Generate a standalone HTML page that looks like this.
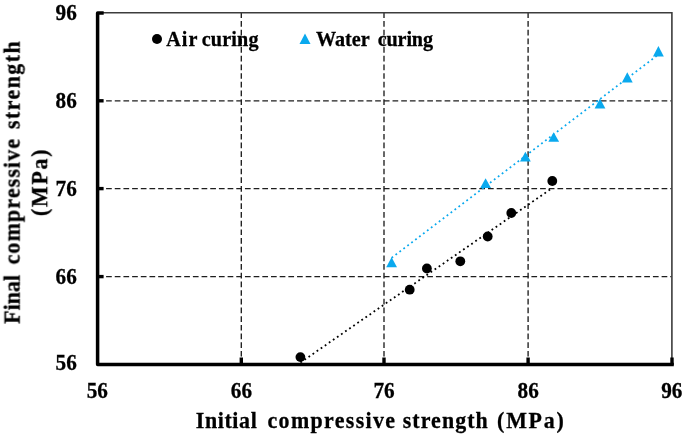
<!DOCTYPE html>
<html>
<head>
<meta charset="utf-8">
<style>
html,body{margin:0;padding:0;background:#fff;}
body{width:685px;height:436px;overflow:hidden;}
svg{display:block;}
text{font-family:"Liberation Serif",serif;font-weight:bold;fill:#000;stroke:#000;stroke-width:0.3px;filter:blur(0.3px);}
</style>
</head>
<body>
<svg width="685" height="436" viewBox="0 0 685 436">
<rect width="685" height="436" fill="#fff"/>
<g stroke="#1e1e1e" stroke-width="1.35" stroke-dasharray="5.7 2.98" fill="none">
<line x1="241.3" y1="12.4" x2="241.3" y2="363"/>
<line x1="384.0" y1="12.4" x2="384.0" y2="363"/>
<line x1="528.1" y1="12.4" x2="528.1" y2="363"/>
<line x1="97.4" y1="276.6" x2="671.5" y2="276.6"/>
<line x1="97.4" y1="188.6" x2="671.5" y2="188.6"/>
<line x1="97.4" y1="100.8" x2="671.5" y2="100.8"/>
</g>
<g stroke="#3c3c3c" stroke-width="1.6" fill="none">
<polyline points="98,12.8 671.9,12.8 671.9,363"/>
</g>
<g stroke="#000" stroke-width="3.5" fill="none" stroke-linejoin="round" stroke-linecap="butt">
<polyline points="103.7,12.9 97.6,12.9 97.6,364.6 673.8,364.6"/>
</g>
<g stroke="#000" stroke-width="3.4" fill="none">
<line x1="97" y1="276.6" x2="103.6" y2="276.6"/>
<line x1="97" y1="188.6" x2="103.6" y2="188.6"/>
<line x1="97" y1="100.8" x2="103.6" y2="100.8"/>
<line x1="241.3" y1="357.5" x2="241.3" y2="365"/>
<line x1="384.0" y1="357.5" x2="384.0" y2="365"/>
<line x1="528.1" y1="357.5" x2="528.1" y2="365"/>
<line x1="672.0" y1="357.5" x2="672.0" y2="365"/>
</g>
<line x1="300.4" y1="362.6" x2="552.3" y2="188" stroke="#000" stroke-width="1.8" stroke-dasharray="1.8 3.15"/>
<line x1="391.6" y1="257.9" x2="658.4" y2="54.6" stroke="#0aa9ee" stroke-width="1.8" stroke-dasharray="1.8 3.15"/>
<g fill="#000">
<circle cx="300.4" cy="357.1" r="4.9"/>
<circle cx="409.7" cy="289.7" r="4.9"/>
<circle cx="426.9" cy="268.5" r="4.9"/>
<circle cx="460.3" cy="261.3" r="4.9"/>
<circle cx="487.7" cy="236.5" r="4.9"/>
<circle cx="511.3" cy="213.0" r="4.9"/>
<circle cx="552.3" cy="181.0" r="4.9"/>
</g>
<g fill="#0aa9ee">
<path d="M391.6,257.3 L397.0,267.2 L386.20000000000005,267.2 Z"/>
<path d="M485.6,178.3 L491.0,188.0 L480.20000000000005,188.0 Z"/>
<path d="M525.4,151.7 L530.8,161.4 L520.0,161.4 Z"/>
<path d="M553.7,132.3 L559.1,141.8 L548.3000000000001,141.8 Z"/>
<path d="M600.0,98.6 L605.4,108.5 L594.6,108.5 Z"/>
<path d="M627.3,72.2 L632.6999999999999,82.5 L621.9,82.5 Z"/>
<path d="M658.4,46.1 L663.8,56.5 L653.0,56.5 Z"/>
<path d="M305,33.5 L310.5,44.1 L299.5,44.1 Z"/>
</g>
<circle cx="157" cy="39" r="5" fill="#000"/>
<text transform="translate(166.20,46) scale(0.96,1)" font-size="21.0" letter-spacing="1.131">Air</text>
<text transform="translate(201.70,46) scale(0.96,1)" font-size="21.0" letter-spacing="0.167">curing</text>
<text transform="translate(316.00,46) scale(0.96,1)" font-size="21.0" letter-spacing="-0.016">Water</text>
<text transform="translate(377.70,46) scale(0.96,1)" font-size="21.0" letter-spacing="-0.146">curing</text>
<g font-size="23.2" text-anchor="end">
<text transform="translate(76.8,20.4) scale(0.915,1)">96</text>
<text transform="translate(76.8,108.2) scale(0.915,1)">86</text>
<text transform="translate(76.8,196.0) scale(0.915,1)">76</text>
<text transform="translate(76.8,284.1) scale(0.915,1)">66</text>
<text transform="translate(76.8,370.3) scale(0.915,1)">56</text>
</g>
<g font-size="23.2" text-anchor="middle">
<text transform="translate(97.3,397.7) scale(0.915,1)">56</text>
<text transform="translate(241.4,397.7) scale(0.915,1)">66</text>
<text transform="translate(384.1,397.7) scale(0.915,1)">76</text>
<text transform="translate(528.2,397.7) scale(0.915,1)">86</text>
<text transform="translate(671.8,397.7) scale(0.915,1)">96</text>
</g>
<text transform="translate(195.74,428.3) scale(0.926,1)" font-size="23.7" letter-spacing="0.668">Initial</text>
<text transform="translate(267.54,428.3) scale(0.926,1)" font-size="23.7" letter-spacing="1.436">compressive</text>
<text transform="translate(402.64,428.3) scale(0.926,1)" font-size="23.7" letter-spacing="1.167">strength</text>
<text transform="translate(497.12,428.3) scale(0.926,1)" font-size="23.7" letter-spacing="1.864">(MPa)</text>
<text transform="translate(19.6,323.82) rotate(-90) scale(0.926,1)" font-size="23.7" letter-spacing="0.056">Final</text>
<text transform="translate(19.6,264.36) rotate(-90) scale(0.926,1)" font-size="23.7" letter-spacing="1.220">compressive</text>
<text transform="translate(19.6,129.06) rotate(-90) scale(0.926,1)" font-size="23.7" letter-spacing="1.568">strength</text>
<text transform="translate(47.2,216.08) rotate(-90) scale(0.926,1)" font-size="23.7" letter-spacing="1.837">(MPa)</text>
</svg>
</body>
</html>
